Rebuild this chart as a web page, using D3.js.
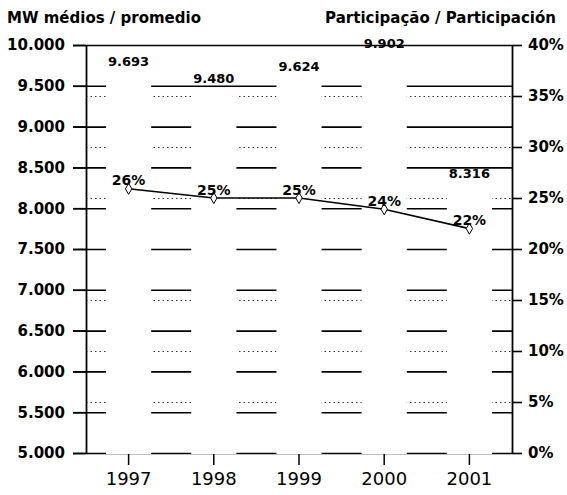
<!DOCTYPE html>
<html>
<head>
<meta charset="utf-8">
<script src="https://cdn.jsdelivr.net/npm/d3@7"></script>
<style>
  body { margin: 0; background: #fff; }
  text { font-family: "DejaVu Sans", sans-serif; fill: #000; }
</style>
</head>
<body>
<div id="chart"></div>
<script>
// data
const years = ["1997", "1998", "1999", "2000", "2001"];
const mwAverage = [9693, 9480, 9624, 9902, 8316];
const sharePct = [25.9, 25.0, 25.0, 23.9, 22.0];
const mwTicks = [5000, 5500, 6000, 6500, 7000, 7500, 8000, 8500, 9000, 9500, 10000];
const pctTicks = [0, 5, 10, 15, 20, 25, 30, 35, 40];

const width = 567,
  height = 495;
const plot = { left: 86, right: 512, top: 45, bottom: 453 };

const ptBR = d3.formatLocale({ decimal: ",", thousands: ".", grouping: [3], currency: ["", ""] });
const fmtMW = ptBR.format(",d");

const svg = d3
  .select("#chart")
  .append("svg")
  .attr("width", width)
  .attr("height", height);

const x = d3
  .scaleBand()
  .domain(years)
  .range([plot.left, plot.right])
  .paddingInner(0.47)
  .paddingOuter(0.235);

const y = d3.scaleLinear().domain([5000, 10000]).range([plot.bottom, plot.top]);
const yPct = d3.scaleLinear().domain([0, 40]).range([plot.bottom, plot.top]);

const rows = years.map((yr, i) => ({ year: yr, mw: mwAverage[i], pct: sharePct[i] }));

// dotted gridlines on the % scale
svg
  .append("g")
  .attr("transform", "translate(" + plot.left + ",0)")
  .call(
    d3.axisRight(yPct)
      .tickValues(pctTicks.filter(d => d > 0 && d < 40))
      .tickSize(plot.right - plot.left)
      .tickFormat("")
  )
  .call(g => g.select(".domain").remove())
  .call(g => g.selectAll("line").attr("stroke", "#333").attr("stroke-width", 1).attr("stroke-dasharray", "1.5,3"));

// solid gridlines (with the outer tick on the left)
svg
  .append("g")
  .attr("transform", "translate(73,0)")
  .call(d3.axisLeft(y).tickValues(mwTicks).tickSize(-(plot.right - 73)).tickFormat(""))
  .call(g => g.select(".domain").remove())
  .call(g => g.selectAll("line").attr("stroke", "#000").attr("stroke-width", 1.6));

// white bars hide the gridlines
svg
  .append("g")
  .selectAll("rect")
  .data(rows)
  .join("rect")
  .attr("x", d => x(d.year))
  .attr("width", x.bandwidth())
  .attr("y", d => y(d.mw))
  .attr("height", d => y(5000) - y(d.mw) + 1)
  .attr("fill", "#fff");

// left axis
svg
  .append("g")
  .attr("transform", "translate(" + plot.left + ",0)")
  .call(d3.axisLeft(y).tickValues(mwTicks).tickSizeInner(13).tickSizeOuter(0).tickPadding(8).tickFormat(fmtMW))
  .call(g => g.select(".domain").attr("stroke-width", 1.8))
  .call(g => g.selectAll("line").attr("stroke-width", 1.6))
  .call(g => g.selectAll("text").attr("font-size", 15).attr("font-weight", "bold").attr("font-family", "DejaVu Sans"));

// right axis
svg
  .append("g")
  .attr("transform", "translate(" + plot.right + ",0)")
  .call(d3.axisRight(yPct).tickValues(pctTicks).tickSizeInner(10).tickSizeOuter(0).tickPadding(6).tickFormat(d => d + "%"))
  .call(g => g.select(".domain").attr("stroke-width", 1.8))
  .call(g => g.selectAll("line").attr("stroke-width", 1.6))
  .call(g => g.selectAll("text").attr("font-size", 15).attr("font-weight", "bold").attr("font-family", "DejaVu Sans"));

// category axis (no baseline, ticks under each bar)
svg
  .append("g")
  .attr("transform", "translate(0," + (plot.bottom + 1) + ")")
  .call(d3.axisBottom(x).tickSize(11).tickPadding(7))
  .call(g => g.select(".domain").remove())
  .call(g => g.selectAll("line").attr("stroke-width", 1.5))
  .call(g => g.selectAll("text").attr("font-size", 18).attr("font-family", "DejaVu Sans"));

// bar value labels
svg
  .append("g")
  .selectAll("text")
  .data(rows)
  .join("text")
  .attr("x", d => x(d.year) + x.bandwidth() / 2)
  .attr("y", d => y(d.mw) - 4.5)
  .attr("text-anchor", "middle")
  .attr("font-size", 13)
  .attr("font-weight", "bold")
  .text(d => fmtMW(d.mw));

// share line
const cx = d => x(d.year) + x.bandwidth() / 2;
svg
  .append("path")
  .datum(rows)
  .attr("fill", "none")
  .attr("stroke", "#000")
  .attr("stroke-width", 1.6)
  .attr("d", d3.line().x(cx).y(d => yPct(d.pct)));

svg
  .append("g")
  .selectAll("path")
  .data(rows)
  .join("path")
  .attr("transform", d => "translate(" + cx(d) + "," + yPct(d.pct) + ")")
  .attr("d", d3.symbol(d3.symbolDiamond, 36))
  .attr("fill", "#fff")
  .attr("stroke", "#000")
  .attr("stroke-width", 1);

svg
  .append("g")
  .selectAll("text")
  .data(rows)
  .join("text")
  .attr("x", cx)
  .attr("y", d => yPct(d.pct) - 3.5)
  .attr("text-anchor", "middle")
  .attr("font-size", 14)
  .attr("font-weight", "bold")
  .text(d => Math.round(d.pct) + "%");

// headers
svg.append("text")
  .attr("x", 7)
  .attr("y", 23)
  .attr("font-size", 15)
  .attr("font-weight", "bold")
  .text("MW médios / promedio");

svg.append("text")
  .attr("x", 556)
  .attr("y", 23)
  .attr("text-anchor", "end")
  .attr("font-size", 15)
  .attr("font-weight", "bold")
  .text("Participação / Participación");
</script>
</body>
</html>
